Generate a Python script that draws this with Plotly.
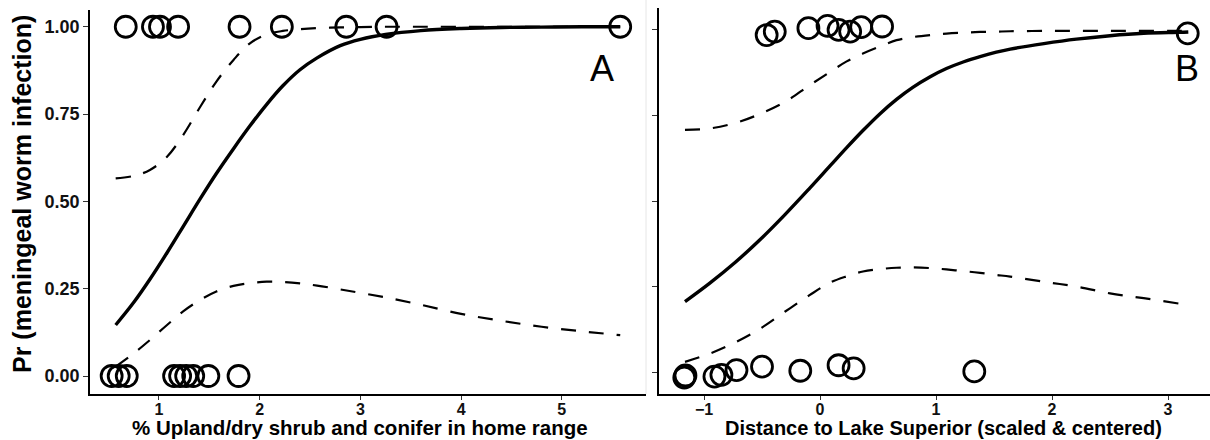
import plotly.graph_objects as go

# ---- Panel A: % upland/dry shrub and conifer in home range ----
a_pos_x = [0.67, 0.94, 1.01, 1.19, 1.80, 2.22, 2.86, 3.26, 5.58]
a_pos_y = [1, 1, 1, 1, 1, 1, 1, 1, 1]
a_neg_x = [0.53, 0.60, 0.68, 1.15, 1.21, 1.27, 1.34, 1.49, 1.79]
a_neg_y = [0, 0, 0, 0, 0, 0, 0, 0, 0]

a_grid = [0.57, 0.75, 0.91, 1.08, 1.24, 1.41, 1.57, 1.74, 1.90, 2.07, 2.23,
          2.40, 2.57, 2.80, 3.00, 3.25, 3.60, 4.00, 4.40, 4.80, 5.20, 5.58]
a_fit = [0.146, 0.211, 0.277, 0.353, 0.428, 0.508, 0.580, 0.651, 0.715, 0.778, 0.831,
         0.877, 0.911, 0.946, 0.964, 0.978, 0.989, 0.995, 0.998, 0.999, 1.000, 1.000]
a_upper = [0.566, 0.573, 0.590, 0.628, 0.690, 0.771, 0.843, 0.905, 0.952, 0.978, 0.988,
           0.993, 0.996, 0.998, 0.999, 1.000, 1.000, 1.000, 1.000, 1.000, 1.000, 1.000]
a_lower = [0.027, 0.065, 0.103, 0.146, 0.185, 0.218, 0.242, 0.258, 0.266, 0.270, 0.269,
           0.265, 0.259, 0.248, 0.238, 0.225, 0.204, 0.178, 0.158, 0.141, 0.128, 0.117]

# ---- Panel B: distance to Lake Superior (scaled & centered) ----
b_pos_x = [-0.46, -0.39, -0.10, 0.065, 0.16, 0.26, 0.355, 0.535, 3.17]
b_pos_y = [0.985, 0.995, 1.005, 1.012, 1.000, 0.995, 1.008, 1.010, 0.990]
b_neg_x = [-1.17, -1.16, -0.91, -0.85, -0.72, -0.50, -0.17, 0.16, 0.29, 1.33]
b_neg_y = [-0.016, -0.010, -0.013, -0.008, 0.006, 0.016, 0.004, 0.020, 0.011, 0.002]

b_grid = [-1.164, -0.95, -0.73, -0.52, -0.30, -0.09, 0.09, 0.23, 0.37, 0.52, 0.66, 0.80,
          0.95, 1.09, 1.24, 1.38, 1.52, 1.64, 1.93, 2.21, 2.50, 2.79, 3.10, 3.175]
b_fit = [0.206, 0.260, 0.321, 0.386, 0.461, 0.537, 0.604, 0.656, 0.706, 0.756, 0.797, 0.832,
         0.863, 0.887, 0.907, 0.922, 0.935, 0.944, 0.960, 0.973, 0.983, 0.990, 0.993, 0.994]
b_upper = [0.708, 0.712, 0.728, 0.754, 0.790, 0.838, 0.878, 0.908, 0.931, 0.952, 0.970, 0.979,
           0.985, 0.989, 0.992, 0.994, 0.995, 0.996, 0.997, 0.997, 0.997, 0.997, 0.997, 0.997]
b_lower = [0.030, 0.054, 0.087, 0.126, 0.177, 0.225, 0.262, 0.280, 0.294, 0.301, 0.305, 0.306,
           0.304, 0.300, 0.295, 0.290, 0.284, 0.279, 0.264, 0.250, 0.230, 0.216, 0.200, 0.196]

y_ticks = [0, 0.25, 0.5, 0.75, 1.0]
y_tick_text = ["0.00", "0.25", "0.50", "0.75", "1.00"]
a_x_ticks = [1, 2, 3, 4, 5]
b_x_ticks = [-1, 0, 1, 2, 3]

FONT = "Liberation Sans, Arial, sans-serif"
W, H = 1210, 440

fig = go.Figure()


def add_panel(xa, ya, grid, fit, lo, hi, px, py, nx, ny):
    common = dict(xaxis=xa, yaxis=ya, showlegend=False, hoverinfo="skip")
    for band in (hi, lo):
        fig.add_trace(go.Scatter(x=grid, y=band, mode="lines", line_shape="spline",
                                 line=dict(color="black", width=2.2, dash="15px,13px"), **common))
    fig.add_trace(go.Scatter(x=grid, y=fit, mode="lines", line_shape="spline",
                             line=dict(color="black", width=3.4), **common))
    for xs, ys in ((px, py), (nx, ny)):
        fig.add_trace(go.Scatter(x=xs, y=ys, mode="markers",
                                 marker=dict(symbol="circle-open", size=21, color="black",
                                             line=dict(color="black", width=2.8)), **common))


add_panel("x", "y", a_grid, a_fit, a_lower, a_upper, a_pos_x, a_pos_y, a_neg_x, a_neg_y)
add_panel("x2", "y2", b_grid, b_fit, b_lower, b_upper, b_pos_x, b_pos_y, b_neg_x, b_neg_y)

line_style = dict(showline=True, linecolor="black", linewidth=1.6, ticks="outside",
                  tickwidth=1.2, tickcolor="#333", showgrid=False, zeroline=False)
x_style = dict(ticklen=4, ticklabelstandoff=-4,
               tickfont=dict(family=FONT, size=16, color="#111", weight="bold"), **line_style)
y_style = dict(ticklen=5, tickfont=dict(family=FONT, size=18, color="#111", weight="bold"),
               **line_style)

fig.update_layout(
    width=W, height=H,
    margin=dict(l=0, r=0, t=0, b=0),
    paper_bgcolor="white", plot_bgcolor="white",
    xaxis=dict(domain=[90 / W, 646 / W], range=[0.315, 5.836], tickvals=a_x_ticks,
               anchor="y", **x_style),
    yaxis=dict(domain=[46 / H, 430 / H], range=[-0.0515, 1.048], tickvals=y_ticks,
               ticktext=y_tick_text, anchor="x", **y_style),
    xaxis2=dict(domain=[659 / W, 1.0], range=[-1.388, 3.362], tickvals=b_x_ticks,
                anchor="y2", **x_style),
    yaxis2=dict(domain=[46 / H, 432 / H], range=[-0.064, 1.064], tickvals=y_ticks,
                showticklabels=False, anchor="x2", **y_style),
)

# faint seam at the right edge of the left panel
fig.add_shape(type="line", xref="paper", yref="paper", x0=646 / W, x1=646 / W,
              y0=46 / H, y1=1.0, line=dict(color="#e6e6e6", width=1))

ann = dict(xref="paper", yref="paper", showarrow=False, xanchor="center", yanchor="middle")
fig.add_annotation(x=22 / W, y=1 - 194 / H, text="Pr (meningeal worm infection)", textangle=-90,
                   font=dict(family=FONT, size=25, color="black", weight="bold"), **ann)
fig.add_annotation(x=360 / W, y=1 - 427.5 / H, text="% Upland/dry shrub and conifer in home range",
                   font=dict(family=FONT, size=20.5, color="black", weight="bold"), **ann)
fig.add_annotation(x=943 / W, y=1 - 427.5 / H, text="Distance to Lake Superior (scaled & centered)",
                   font=dict(family=FONT, size=20, color="black", weight="bold"), **ann)
fig.add_annotation(x=602 / W, y=1 - 68 / H, text="A",
                   font=dict(family=FONT, size=36, color="black"), **ann)
fig.add_annotation(x=1187 / W, y=1 - 68 / H, text="B",
                   font=dict(family=FONT, size=36, color="black"), **ann)

fig.write_html("out.html")
